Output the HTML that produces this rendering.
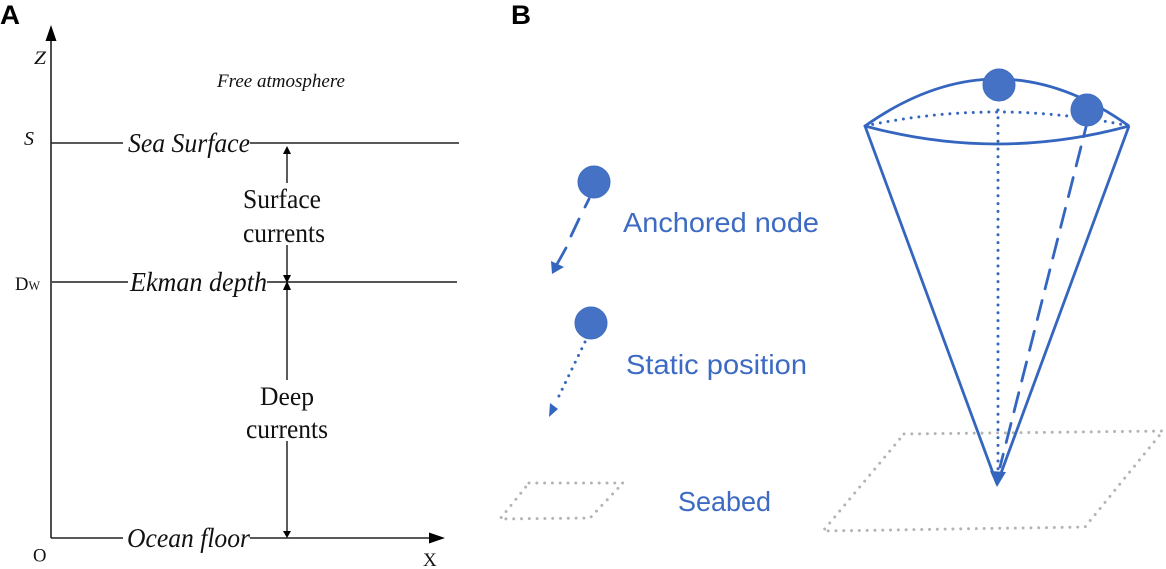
<!DOCTYPE html>
<html>
<head>
<meta charset="utf-8">
<style>
html,body{margin:0;padding:0;background:#fff;width:1166px;height:569px;overflow:hidden}
svg{display:block}
.s{font-family:"Liberation Serif",serif;fill:#111}
.i{font-style:italic}
.b{font-family:"Liberation Sans",sans-serif;font-weight:bold;fill:#000;font-size:27px}
.c{font-family:"Liberation Sans",sans-serif;fill:#3d6bc2;font-size:28px}
</style>
</head>
<body>
<svg width="1166" height="569" viewBox="0 0 1166 569" xmlns="http://www.w3.org/2000/svg">
<defs><filter id="bl" x="-5%" y="-5%" width="110%" height="110%"><feGaussianBlur stdDeviation="0.35"/></filter></defs>
<rect width="1166" height="569" fill="#fff"/>

<!-- Panel A -->
<text class="b" x="0" y="24" textLength="20" lengthAdjust="spacingAndGlyphs">A</text>
<g stroke="#222" stroke-width="1.6" fill="none">
  <line x1="51" y1="35" x2="51" y2="538"/>
  <line x1="51" y1="143" x2="123" y2="143"/>
  <line x1="250" y1="143" x2="459" y2="143"/>
  <line x1="51" y1="538" x2="123" y2="538"/>
  <line x1="250" y1="538" x2="432" y2="538"/>
  <g stroke="#555" stroke-width="2">
    <line x1="51" y1="282" x2="128" y2="282"/>
    <line x1="267" y1="282" x2="457" y2="282"/>
  </g>
  <g stroke="#333">
    <line x1="287" y1="150" x2="287" y2="183"/>
    <line x1="287" y1="245" x2="287" y2="278"/>
    <line x1="287" y1="287" x2="287" y2="380"/>
    <line x1="287" y1="441" x2="287" y2="534"/>
  </g>
</g>
<g fill="#000">
  <polygon points="51,25 45.5,41 56.5,41"/>
  <polygon points="445,538 429,532.5 429,543.5"/>
  <polygon points="287,146 283,154 291,154"/>
  <polygon points="287,283 283,275 291,275"/>
  <polygon points="287,281 283,290 291,290"/>
  <polygon points="287,538 283,531 291,531"/>
</g>
<text class="s i" x="34" y="64" font-size="19" textLength="12" lengthAdjust="spacingAndGlyphs">Z</text>
<text class="s i" x="24" y="145" font-size="20" textLength="10" lengthAdjust="spacingAndGlyphs">S</text>
<text class="s" x="15" y="290" font-size="19" textLength="25" lengthAdjust="spacingAndGlyphs">D<tspan font-size="12.5">W</tspan></text>
<text class="s" x="33" y="561.5" font-size="18.6">O</text>
<text class="s" x="423" y="566" font-size="19">X</text>
<text class="s i" x="217" y="87" font-size="19" textLength="128" lengthAdjust="spacingAndGlyphs">Free atmosphere</text>
<text class="s i" x="128" y="152" font-size="27" textLength="122" lengthAdjust="spacingAndGlyphs">Sea Surface</text>
<text class="s i" x="130" y="291" font-size="27" textLength="137" lengthAdjust="spacingAndGlyphs">Ekman depth</text>
<text class="s i" x="127" y="547" font-size="27" textLength="123" lengthAdjust="spacingAndGlyphs">Ocean floor</text>
<text class="s" x="243" y="208" font-size="27" textLength="78" lengthAdjust="spacingAndGlyphs">Surface</text>
<text class="s" x="243" y="242" font-size="27" textLength="82" lengthAdjust="spacingAndGlyphs">currents</text>
<text class="s" x="260" y="405" font-size="26.5" textLength="54" lengthAdjust="spacingAndGlyphs">Deep</text>
<text class="s" x="246" y="438" font-size="27" textLength="82" lengthAdjust="spacingAndGlyphs">currents</text>

<!-- Panel B -->
<text class="b" x="511" y="24" textLength="20" lengthAdjust="spacingAndGlyphs">B</text>

<g filter="url(#bl)">
  <!-- seabed -->
  <g fill="none" stroke="#b4b4b4" stroke-width="3" stroke-linecap="round" stroke-dasharray="0 7.8">
    <polygon points="529,483 623,483 590,518 500,519"/>
    <polygon points="904,434 1163,431 1085,527 823,531"/>
  </g>
  <!-- cone -->
  <g fill="none" stroke="#3566bf" stroke-width="2.8" stroke-linejoin="round">
    <path d="M865,126 Q998,32 1129,126"/>
    <path d="M865,126 Q997,162 1129,126"/>
    <path d="M865,126 L997,484 L1129,126"/>
  </g>
  <path d="M865,126 Q997,98 1129,126" fill="none" stroke="#3566bf" stroke-width="3" stroke-linecap="round" stroke-dasharray="0 7.8"/>
  <line x1="998" y1="110" x2="998" y2="470" stroke="#3566bf" stroke-width="3" stroke-linecap="round" stroke-dasharray="0 7.8"/>
  <line x1="1086" y1="127" x2="1000" y2="467" stroke="#3566bf" stroke-width="2.8" stroke-linecap="round" stroke-dasharray="10 10.5 19.6 12.1 19.6 12.1 19.6 12.1 19.6 12.1 19.6 12.1 19.6 12.1 19.6 12.1 19.6 12.1 19.6 12.1 19.6 12.1 19.6 12.1"/>
  <polygon points="997,487 990,471 1006,472" fill="#3566bf"/>
  <circle cx="999" cy="85" r="16" fill="#4472c4" stroke="#3f6dc2" stroke-width="1"/>
  <circle cx="1087" cy="110" r="16" fill="#4472c4" stroke="#3f6dc2" stroke-width="1"/>

  <!-- legend -->
  <circle cx="594" cy="182" r="16" fill="#4472c4" stroke="#3f6dc2" stroke-width="1"/>
  <circle cx="591" cy="323" r="16" fill="#4472c4" stroke="#3f6dc2" stroke-width="1"/>
  <g stroke="#3566bf" stroke-width="2.8" stroke-linecap="round" fill="none">
    <line x1="589" y1="199" x2="585" y2="207"/>
    <line x1="579" y1="219" x2="571" y2="236"/>
    <line x1="566" y1="248" x2="556" y2="266"/>
    <line x1="585" y1="342" x2="557" y2="400" stroke-width="3" stroke-dasharray="0 7.5"/>
  </g>
  <polygon points="552,274 551,261 564,267" fill="#3566bf"/>
  <polygon points="549,417 550,403 558,409" fill="#3566bf"/>

  <text class="c" x="623" y="232" textLength="196" lengthAdjust="spacingAndGlyphs">Anchored node</text>
  <text class="c" x="626" y="374" textLength="181" lengthAdjust="spacingAndGlyphs">Static position</text>
  <text class="c" x="678" y="511" textLength="93" lengthAdjust="spacingAndGlyphs">Seabed</text>
</g>
</svg>
</body>
</html>
